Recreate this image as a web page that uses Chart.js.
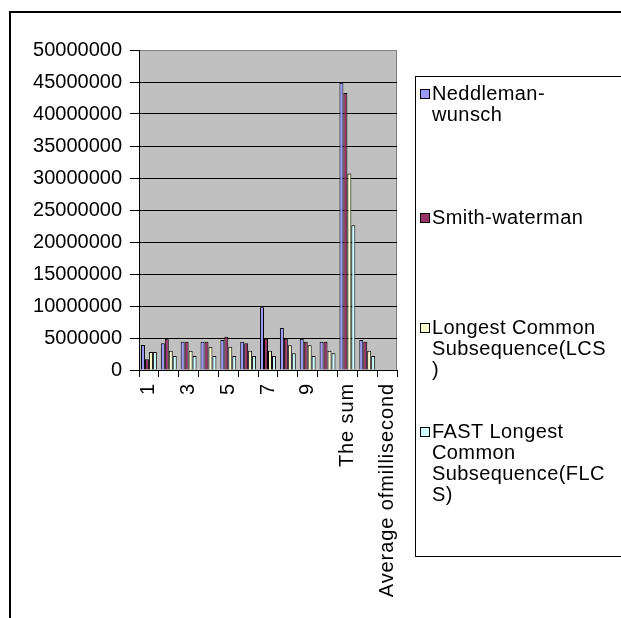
<!DOCTYPE html>
<html>
<head>
<meta charset="utf-8">
<script src="https://cdn.jsdelivr.net/npm/chart.js@4/dist/chart.umd.min.js"></script>
<style>
  html, body { margin: 0; padding: 0; background: #fff; }
  #wrap { width: 621px; height: 618px; position: relative; }
</style>
</head>
<body>
<div id="wrap"><canvas id="myBarGraph" width="621" height="618"></canvas></div>
<script>
// categories (slot 12 has no bars, slot 11 has no label in the original)
var categories = ["1", "2", "3", "4", "5", "6", "7", "8", "9", "10", "The sum", "", "Average ofmillisecond"];
var seriesNames = ["Neddleman-wunsch", "Smith-waterman", "Longest Common Subsequence(LCS)", "FAST Longest Common Subsequence(FLCS)"];
var legendLines = [["Neddleman-", "wunsch"], ["Smith-waterman"], ["Longest Common", "Subsequence(LCS", ")"], ["FAST Longest", "Common", "Subsequence(FLC", "S)"]];

var needleman = [3900000, 4170000, 4400000, 4400000, 4700000, 4400000, 9800000, 6560000, 4900000, 4400000, 44900000, 4700000, null];
var smith     = [1670000, 4900000, 4400000, 4400000, 5200000, 4170000, 4900000, 4900000, 4400000, 4400000, 43300000, 4400000, null];
var lcs       = [2800000, 3000000, 3000000, 3650000, 3650000, 3000000, 3000000, 3850000, 3850000, 3000000, 30700000, 3000000, null];
var flcs      = [2800000, 2200000, 2200000, 2200000, 2200000, 2200000, 2200000, 2600000, 2200000, 2600000, 22600000, 2200000, null];

var yTicks = [0, 5000000, 10000000, 15000000, 20000000, 25000000, 30000000, 35000000, 40000000, 45000000, 50000000];

var colors = ["#9999FF", "#993366", "#FFFFCC", "#CCFFFF"];
var FONT = "'Liberation Sans', Arial, sans-serif";

var frame = {
  id: "frame",
  beforeDraw: function(chart) {
    var c = chart.ctx, a = chart.chartArea;
    c.letterSpacing = "0px";
    c.save();
    // outer chart border (cropped on right and bottom)
    c.strokeStyle = "#000";
    c.lineWidth = 2;
    c.beginPath();
    c.moveTo(10, 620);
    c.lineTo(10, 12);
    c.lineTo(625, 12);
    c.stroke();
    // plot area
    c.fillStyle = "#C0C0C0";
    c.fillRect(a.left, a.top, a.right - a.left, a.bottom - a.top);
    c.strokeStyle = "#808080";
    c.lineWidth = 1;
    c.strokeRect(a.left + 0.5, a.top + 0.5, a.right - a.left - 1, a.bottom - a.top);
    c.restore();
  },
  afterDatasetsDraw: function(chart) {
    // x labels are drawn after this (ticks z: 1), a bit wider spaced
    chart.ctx.letterSpacing = "0.9px";
  },
  afterDraw: function(chart) {
    var c = chart.ctx;
    c.letterSpacing = "0.4px";
    c.save();
    c.strokeStyle = "#000";
    c.lineWidth = 1;
    c.strokeRect(415.5, 76.5, 230, 480);
    c.font = "20px " + FONT;
    c.textBaseline = "middle";
    var starts = [94, 218, 328, 432];
    for (var i = 0; i < legendLines.length; i++) {
      var y = starts[i];
      c.fillStyle = colors[i];
      c.fillRect(420, y - 5, 9, 9);
      c.strokeStyle = "#000";
      c.strokeRect(420.5, y - 4.5, 9, 9);
      c.fillStyle = "#000";
      for (var j = 0; j < legendLines[i].length; j++) {
        c.fillText(legendLines[i][j], 432, y + j * 21);
      }
    }
    c.restore();
    c.letterSpacing = "0px";
  }
};

var data = [needleman, smith, lcs, flcs];
var ctx = document.getElementById("myBarGraph").getContext("2d");
var myBarGraph = new Chart(ctx, {
  type: "bar",
  data: {
    labels: categories,
    datasets: seriesNames.map(function(name, i) {
      return {
        label: name,
        data: data[i],
        backgroundColor: colors[i],
        borderColor: "#000",
        borderWidth: 1,
        categoryPercentage: 0.8,
        barPercentage: 1.0
      };
    })
  },
  options: {
    responsive: false,
    animation: false,
    layout: { padding: { left: 0, top: 50, right: 224, bottom: 0 } },
    plugins: {
      legend: { display: false },
      tooltip: { enabled: false }
    },
    scales: {
      x: {
        offset: true,
        grid: { display: true, drawOnChartArea: false, offset: true, color: "#000", tickLength: 7 },
        border: { display: true, color: "#000", width: 1 },
        ticks: {
          z: 1,
          autoSkip: false,
          minRotation: 90,
          maxRotation: 90,
          padding: 6,
          color: "#000",
          font: { family: FONT, size: 20 },
          callback: function(v, i) { return i % 2 === 0 ? categories[i] : ""; }
        },
        afterFit: function(s) { s.height = 248; }
      },
      y: {
        min: 0,
        max: 50000000,
        afterBuildTicks: function(s) { s.ticks = yTicks.map(function(v) { return { value: v }; }); },
        grid: {
          color: function(c) { return c.tick && c.tick.value === 50000000 ? "#808080" : "#000"; },
          tickColor: "#000",
          tickLength: 9
        },
        border: { display: true, color: "#000", width: 1 },
        ticks: {
          padding: 8,
          color: "#000",
          font: { family: FONT, size: 20 },
          callback: function(v) { return String(v); }
        },
        afterFit: function(s) { s.width = 139; }
      }
    }
  },
  plugins: [frame]
});
</script>
</body>
</html>
